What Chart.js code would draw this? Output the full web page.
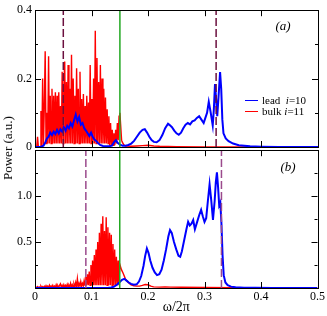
<!DOCTYPE html>
<html>
<head>
<meta charset="utf-8">
<script src="https://cdn.jsdelivr.net/npm/chart.js@4.4.0/dist/chart.umd.min.js"></script>
<style>
body{margin:0;background:#fff;width:327px;height:316px;position:relative;overflow:hidden;font-family:'Liberation Serif','Times New Roman',serif}
#topc{position:absolute;left:0;top:0}
#botc{position:absolute;left:0;top:140px}
.ylab{position:absolute;left:8px;top:148px;transform:translate(-50%,-50%) rotate(-90deg);font-size:13px;white-space:nowrap}
.tag{position:absolute;font-size:13px;font-style:italic;transform:translate(-50%,-50%)}
.leg{position:absolute;left:245px;font-size:11px;line-height:11px;white-space:nowrap}
.leg span.ln{display:inline-block;width:13px;height:0;border-top:1.5px solid;vertical-align:middle;margin-right:4px;position:relative;top:-1px}
</style>
</head>
<body>
<canvas id="topc" width="327" height="160"></canvas>
<canvas id="botc" width="327" height="176"></canvas>
<div class="ylab">Power (a.u.)</div>
<div class="tag" style="left:283px;top:26px">(a)</div>
<div class="tag" style="left:288px;top:167px">(b)</div>
<div class="leg" style="top:95px"><span class="ln" style="border-color:#0000ff"></span>lead &nbsp;<i>i</i>=10</div>
<div class="leg" style="top:106px"><span class="ln" style="border-color:#ff0000"></span>bulk <i>i</i>=11</div>
<script>
// axes
const freqTicks = [0, 0.1, 0.2, 0.3, 0.4, 0.5]
const topMajor = [0, 0.2, 0.4]
const topMinor = [0.1, 0.3]
const botMajor = [0.5, 1.0]
const botMinor = [0.25, 0.75, 1.25]

// panel (a) lead i=10
const leadAX = [0,0.01,0.015,0.018,0.021,0.024,0.027,0.03,0.033,0.036,0.039,0.042,0.045,0.048,0.051,0.054,0.057,0.06,0.063,0.066,0.069,0.072,0.075,0.078,0.081,0.084,0.087,0.09,0.093,0.096,0.099,0.102,0.105,0.108,0.111,0.115,0.12,0.13,0.136,0.14,0.143,0.146,0.15,0.155,0.16,0.165,0.17,0.175,0.18,0.185,0.19,0.194,0.198,0.202,0.206,0.21,0.215,0.22,0.225,0.23,0.235,0.238,0.242,0.246,0.25,0.254,0.258,0.262,0.266,0.27,0.274,0.278,0.282,0.286,0.29,0.294,0.298,0.301,0.304,0.307,0.31,0.314,0.316,0.318,0.32,0.322,0.324,0.327,0.329,0.331,0.333,0.337,0.342,0.35,0.36,0.38,0.4,0.43,0.5]
const leadAY = [0,0,0.004,0.012,0.025,0.03,0.042,0.035,0.045,0.038,0.05,0.04,0.052,0.045,0.058,0.048,0.062,0.055,0.07,0.06,0.078,0.095,0.075,0.088,0.065,0.07,0.055,0.048,0.04,0.032,0.042,0.03,0.022,0.018,0.012,0.006,0.003,0.002,0.004,0.015,0.02,0.012,0.007,0.004,0.004,0.006,0.01,0.018,0.03,0.042,0.05,0.052,0.042,0.03,0.02,0.015,0.014,0.02,0.035,0.055,0.068,0.064,0.058,0.048,0.04,0.036,0.042,0.055,0.065,0.07,0.066,0.075,0.078,0.085,0.09,0.08,0.07,0.085,0.1,0.132,0.105,0.063,0.11,0.184,0.14,0.09,0.14,0.219,0.17,0.08,0.04,0.025,0.017,0.01,0.005,0.002,0.001,0,0]

// panel (a) bulk i=11, dense part on a fixed frequency grid, then the tail
const bulkAStart = 0.003, bulkAStep = 0.0015
const bulkAY = [
  0,0.03,0,0,0,0.105,0,0.2,0.005,0.12,
  0.28,0.01,0.1,0.01,0.265,0.01,0.15,0.01,0.17,0.01,
  0.15,0.01,0.16,0.01,0.15,0.01,0.16,0.01,0.12,0.01,
  0.22,0.01,0.18,0.25,0.01,0.19,0.01,0.24,0.01,0.17,
  0.01,0.27,0.01,0.2,0.01,0.15,0.01,0.23,0.01,0.17,
  0.01,0.22,0.01,0.14,0.01,0.155,0.01,0.12,0.01,0.15,
  0.01,0.13,0.01,0.24,0.01,0.14,0.01,0.2,0.01,0.34,
  0.01,0.26,0.01,0.19,0.01,0.24,0.01,0.2,0.01,0.17,
  0.01,0.145,0.01,0.11,0.01,0.09,0.005,0.07,0.005,0.05,
  0.005,0.04,0.005,0.05,0.01,0.07,0.02,0.09,0.1,0.06,
  0.02]
const bulkATailX = [0.154,0.157,0.16,0.17,0.18,0.19,0.2,0.21,0.22,0.25,0.3,0.5]
const bulkATailY = [0.015,0.006,0.003,0.002,0.003,0.004,0.005,0.003,0.002,0.001,0,0]

// panel (b) lead i=10
const leadBX = [0,0.12,0.13,0.135,0.14,0.145,0.15,0.154,0.158,0.162,0.166,0.17,0.175,0.18,0.184,0.188,0.192,0.195,0.198,0.201,0.204,0.208,0.212,0.216,0.22,0.224,0.228,0.232,0.236,0.239,0.242,0.246,0.25,0.254,0.257,0.26,0.264,0.268,0.271,0.274,0.277,0.28,0.283,0.287,0.291,0.294,0.297,0.3,0.303,0.306,0.309,0.312,0.315,0.318,0.32,0.322,0.324,0.326,0.328,0.33,0.332,0.334,0.337,0.341,0.347,0.355,0.37,0.39,0.42,0.5]
const leadBY = [0,0,0.002,0.005,0.015,0.035,0.065,0.09,0.1,0.08,0.06,0.045,0.035,0.04,0.07,0.13,0.24,0.35,0.43,0.38,0.3,0.22,0.17,0.14,0.15,0.2,0.3,0.42,0.56,0.63,0.6,0.5,0.42,0.35,0.34,0.4,0.52,0.64,0.72,0.68,0.7,0.74,0.64,0.72,0.8,0.85,0.78,0.72,0.76,0.95,1.13,0.95,0.74,0.95,1.15,1.26,1.1,0.9,0.93,0.7,0.35,0.14,0.06,0.03,0.015,0.008,0.004,0.002,0,0]

// panel (b) bulk i=11
const bulkBStart = 0, bulkBStep = 0.0015
const bulkBY = [
  0,0.01,0.002,0.015,0.003,0.012,0.002,0.02,0.004,0.015,
  0.003,0.018,0.004,0.025,0.005,0.02,0.004,0.03,0.006,0.022,
  0.005,0.028,0.006,0.02,0.005,0.035,0.007,0.025,0.006,0.03,
  0.045,0.008,0.03,0.007,0.035,0.008,0.028,0.01,0.04,0.01,
  0.03,0.012,0.05,0.01,0.035,0.012,0.045,0.015,0.06,0.012,
  0.1,0.015,0.05,0.02,0.07,0.02,0.05,0.025,0.08,0.03,
  0.12,0.03,0.15,0.03,0.18,0.03,0.25,0.03,0.3,0.03,
  0.36,0.03,0.42,0.03,0.5,0.03,0.6,0.03,0.7,0.03,
  0.78,0.03,0.62,0.03,0.77,0.03,0.66,0.03,0.6,0.03,
  0.58,0.03,0.48,0.03,0.42,0.03,0.34,0.03,0.3,0.03,
  0.26]
const bulkBTailX = [0.153,0.156,0.16,0.165,0.17,0.175,0.18,0.185,0.19,0.195,0.2,0.205,0.21,0.22,0.23,0.24,0.26,0.3,0.35,0.4,0.5]
const bulkBTailY = [0.2,0.16,0.1,0.06,0.035,0.025,0.02,0.02,0.028,0.038,0.035,0.02,0.012,0.01,0.012,0.01,0.008,0.005,0.002,0,0]

// marker lines
const greenMark = 0.15
const dashA = [0.05, 0.32]
const dashB = [0.09, 0.33]

function pts(xs, ys) { return ys.map((y, i) => ({x: xs[i], y})) }
function grid(start, step, ys) { return ys.map((y, i) => ({x: +(start + i * step).toFixed(4), y})) }
function vline(x, top, color, dash) {
    return {data: [{x, y: 0}, {x, y: top}], borderColor: color, borderWidth: 1.5, borderDash: dash, pointRadius: 0, order: 0}
}

const framePlugin = {
    id: 'frame',
    afterDatasetsDraw(chart, args, opts) {
        const {ctx, chartArea: a, scales: {x, y}} = chart
        ctx.save()
        ctx.strokeStyle = '#000'
        ctx.lineWidth = 1
        ctx.strokeRect(Math.round(a.left) + 0.5, Math.round(a.top) + 0.5, Math.round(a.right - a.left), Math.round(a.bottom - a.top))
        ctx.beginPath()
        freqTicks.forEach(v => {
            const px = Math.round(x.getPixelForValue(v)) + 0.5
            ctx.moveTo(px, a.bottom); ctx.lineTo(px, a.bottom - 6)
            ctx.moveTo(px, a.top); ctx.lineTo(px, a.top + 6)
        })
        const side = (vals, len) => vals.forEach(v => {
            const py = Math.round(y.getPixelForValue(v)) + 0.5
            ctx.moveTo(a.left, py); ctx.lineTo(a.left + len, py)
            ctx.moveTo(a.right, py); ctx.lineTo(a.right - len, py)
        })
        side(opts.major, 6)
        side(opts.minor, 3)
        ctx.stroke()
        ctx.restore()
    }
}

const tickFont = {family: "'Liberation Serif', serif", size: 12}

function panel(id, datasets, ymax, ystep, major, minor, showX, padding) {
    return new Chart(document.getElementById(id), {
        type: 'line',
        data: {datasets},
        options: {
            responsive: false,
            animation: false,
            layout: {padding},
            elements: {line: {tension: 0}},
            plugins: {legend: {display: false}, tooltip: {enabled: false}, frame: {major, minor}},
            scales: {
                x: {
                    type: 'linear', min: 0, max: 0.5, display: showX,
                    grid: {display: false, drawTicks: false, tickLength: 0}, border: {display: false},
                    afterFit: s => { if (showX) s.height = 28 },
                    ticks: {stepSize: 0.1, padding: 2, color: '#000', font: tickFont, maxRotation: 0,
                        callback: v => v === 0 ? '0' : v.toFixed(1)},
                    title: {display: true, text: 'ω/2π', color: '#000', padding: 0,
                        font: {family: "'Liberation Serif', serif", size: 14}}
                },
                y: {
                    min: 0, max: ymax,
                    grid: {display: false, drawTicks: false, tickLength: 0}, border: {display: false},
                    afterFit: s => { s.width = 35 },
                    ticks: {stepSize: ystep, autoSkip: false, padding: 3, color: '#000', font: tickFont,
                        callback: v => {
                            const r = +v.toFixed(2)
                            if (!major.includes(r)) return ''
                            return r === 0 ? '0' : r.toFixed(1)
                        }}
                }
            }
        },
        plugins: [framePlugin]
    })
}

panel('topc', [
    vline(greenMark, 0.4, '#22a822', []),
    vline(dashA[0], 0.4, '#6b0f3e', [8, 3]),
    vline(dashA[1], 0.4, '#6b0f3e', [8, 3]),
    {data: pts(leadAX, leadAY), borderColor: '#0000ff', borderWidth: 2, pointRadius: 0, order: 1},
    {data: grid(bulkAStart, bulkAStep, bulkAY).concat(pts(bulkATailX, bulkATailY)), borderColor: '#ff0000', borderWidth: 1.4, pointRadius: 0, order: 2}
], 0.4, 0.1, topMajor, topMinor, false, {top: 7, right: 9, bottom: 13, left: 0})

panel('botc', [
    vline(greenMark, 1.5, '#22a822', []),
    vline(dashB[0], 1.5, '#9b4a8c', [8, 3]),
    vline(dashB[1], 1.5, '#9b4a8c', [8, 3]),
    {data: pts(leadBX, leadBY), borderColor: '#0000ff', borderWidth: 2, pointRadius: 0, order: 1},
    {data: grid(bulkBStart, bulkBStep, bulkBY).concat(pts(bulkBTailX, bulkBTailY)), borderColor: '#ff0000', borderWidth: 1.4, pointRadius: 0, order: 2}
], 1.5, 0.25, botMajor, botMinor, true, {top: 7, right: 9, bottom: 0, left: 0})
</script>
</body>
</html>
